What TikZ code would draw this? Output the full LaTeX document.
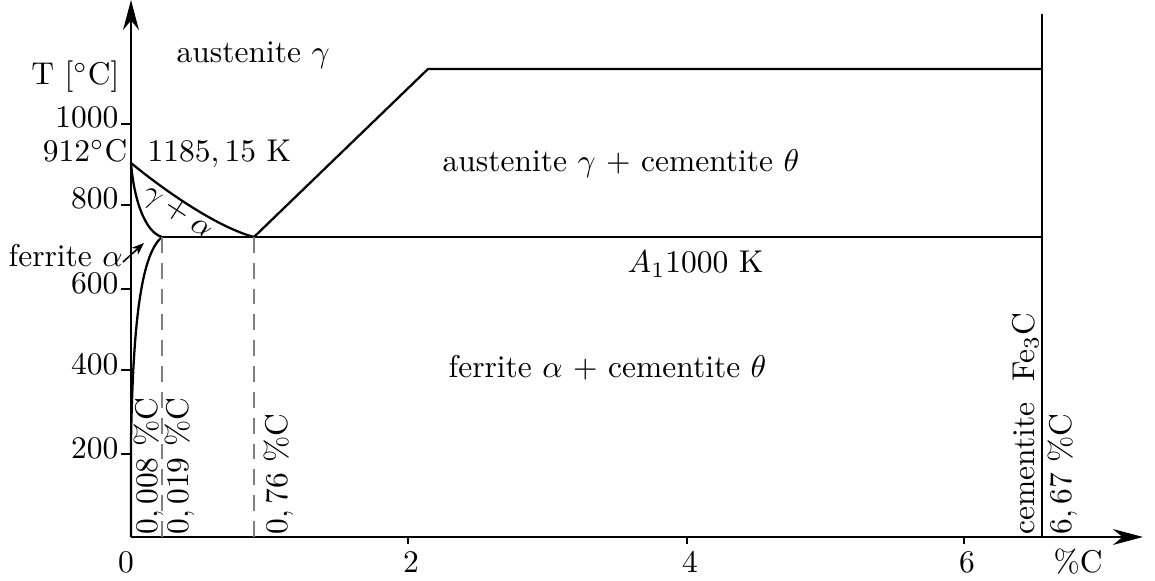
\documentclass[tikz,border=0pt]{standalone}
\usetikzlibrary{arrows.meta}
\begin{document}
\begin{tikzpicture}[x=0.3175pt, y=-0.3175pt,
  axisline/.style={line width=0.9pt, -{Stealth[length=9.5pt,width=5pt,inset=3pt]}},
  phase/.style={line width=0.72pt, line join=miter},
  dashline/.style={gray, line width=0.7pt, dash pattern=on 5pt off 3.2pt},
  tickline/.style={line width=0.72pt},
  lbl/.style={inner sep=0pt},
  vlbl/.style={rotate=90, anchor=base west, inner sep=0pt},
  ptr/.style={line width=0.5pt, -{Stealth[length=4pt,width=3pt]}}]
\useasboundingbox (0,0) rectangle (1155,581);
% key points
\coordinate (O) at (131,537);
\coordinate (Ytop) at (131,0);
\coordinate (Xend) at (1143,537);
\coordinate (G) at (131,163);
\coordinate (P) at (162,237);
\coordinate (S) at (254,237);
\coordinate (E) at (428,69);
\coordinate (Cm) at (1042,237);
\coordinate (Ct) at (1042,69);
\coordinate (Ctop) at (1042,14);
\coordinate (Cb) at (1042,537);
\coordinate (Pb) at (162,537);
\coordinate (Sb) at (254,537);
\coordinate (Q) at (131,440);
% axes
\draw[axisline] (O) -- (Ytop);
\draw[axisline] (O) -- (Xend);
% y ticks
\foreach \yy/\lab in {124/1000,205/800,289/600,370/400,454/200}{
  \coordinate (yt\lab) at (121,\yy);
  \coordinate (ya\lab) at (131,\yy);
  \draw[tickline] (yt\lab) -- (ya\lab);
  \node[lbl, anchor=base east] (yl\lab) at (119,\yy+4) {\lab};
}
% x ticks
\foreach \xx/\lab in {408/2,687/4,964/6}{
  \coordinate (xa\lab) at (\xx,537);
  \coordinate (xt\lab) at (\xx,544);
  \draw[tickline] (xa\lab) -- (xt\lab);
  \node[lbl, anchor=base] (xl\lab) at (\xx+3,572) {\lab};
}
\node[lbl, anchor=base] (xl0) at (126,572) {0};
\node[lbl, anchor=base west] (xunit) at (1053,572) {\%C};
\node[lbl, anchor=base east] (yunit) at (120,85) {T [$^\circ$C]};
% phase boundaries
\draw[phase] (Ctop) -- (Cb);
\draw[phase] (S) -- (E) -- (Ct);
\draw[phase] (P) -- (Cm);
\draw[phase] (G) .. controls (170,195) and (220,228) .. (S);
\draw[phase] (G) .. controls (134,200) and (145,232) .. (P);
\draw[phase] (P) .. controls (140,255) and (133,330) .. (Q) -- (O);
% dashed composition lines
\draw[dashline] (P) -- (Pb);
\draw[dashline] (S) -- (Sb);
% labels
\node[lbl, anchor=base west] (aus) at (176,63) {austenite $\gamma$};
\node[lbl, anchor=base east] (t912) at (128,162) {912$^\circ$C};
\node[lbl, anchor=base west] (t1185) at (147,162) {$1185,15$ K};
\node[lbl, anchor=base west] (ausc) at (442,172) {austenite $\gamma$ + cementite $\theta$};
\node[lbl, anchor=base west] (a1) at (627,273) {$A_1 1000$ K};
\node[lbl, anchor=base west] (ferc) at (448,377) {ferrite $\alpha$ + cementite $\theta$};
\node[lbl, rotate=-33] (ga) at (177,213) {$\gamma+\alpha$};
\node[lbl, anchor=base west] (fer) at (8,267) {ferrite $\alpha$};
\coordinate (ferA) at (123,262);
\coordinate (ferB) at (144,243);
\draw[ptr] (ferA) -- (ferB);
% vertical composition labels
\node[vlbl] (c008) at (157,535) {$0,008$ \%C};
\node[vlbl] (c019) at (188,535) {$0,019$ \%C};
\node[vlbl] (c076) at (287,535) {$0,76$ \%C};
\node[vlbl] (cfe) at (1034,535) {cementite\ \ Fe$_3$C};
\node[vlbl] (c667) at (1071,535) {$6,67$ \%C};
\end{tikzpicture}
\end{document}
